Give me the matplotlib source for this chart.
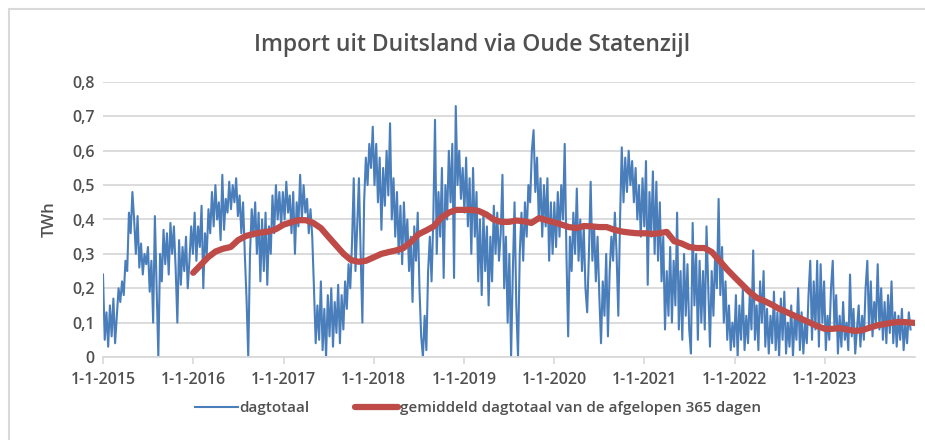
import numpy as np
import pandas as pd
import matplotlib
matplotlib.use('Agg')
import matplotlib.pyplot as plt
from matplotlib.ticker import FuncFormatter
from matplotlib.patches import Rectangle

# dagtotaal (TWh), weekly readings, one list per year
dag_2015 = [0.24, 0.05, 0.13, 0.03, 0.15, 0.06, 0.17, 0.04, 0.12, 0.20, 0.16, 0.22, 0.18,
            0.28, 0.25, 0.42, 0.36, 0.48, 0.40, 0.30, 0.41, 0.26, 0.33, 0.24, 0.30, 0.27,
            0.32, 0.19, 0.28, 0.10, 0.41, 0.20, 0.00, 0.30, 0.22, 0.37, 0.27, 0.36, 0.24,
            0.39, 0.30, 0.38, 0.26, 0.10, 0.34, 0.21, 0.32, 0.25, 0.35, 0.20, 0.28, 0.38]
dag_2016 = [0.30, 0.42, 0.28, 0.38, 0.32, 0.44, 0.20, 0.36, 0.30, 0.43, 0.36, 0.48, 0.38,
            0.50, 0.40, 0.45, 0.34, 0.53, 0.37, 0.46, 0.42, 0.51, 0.43, 0.50, 0.45, 0.52,
            0.41, 0.47, 0.36, 0.45, 0.30, 0.17, 0.00, 0.30, 0.43, 0.35, 0.45, 0.30, 0.42,
            0.22, 0.40, 0.25, 0.42, 0.21, 0.38, 0.30, 0.47, 0.36, 0.50, 0.40, 0.48, 0.38]
dag_2017 = [0.48, 0.40, 0.51, 0.42, 0.47, 0.36, 0.48, 0.30, 0.45, 0.38, 0.53, 0.40, 0.50,
            0.42, 0.46, 0.36, 0.43, 0.35, 0.20, 0.04, 0.15, 0.05, 0.22, 0.02, 0.14, 0.00,
            0.18, 0.06, 0.20, 0.03, 0.16, 0.07, 0.21, 0.04, 0.18, 0.08, 0.22, 0.14, 0.27,
            0.20, 0.33, 0.52, 0.25, 0.38, 0.52, 0.30, 0.10, 0.45, 0.58, 0.50, 0.62, 0.55]
dag_2018 = [0.67, 0.50, 0.62, 0.45, 0.58, 0.37, 0.55, 0.44, 0.60, 0.47, 0.68, 0.40, 0.52,
            0.35, 0.48, 0.30, 0.44, 0.27, 0.45, 0.32, 0.40, 0.25, 0.35, 0.16, 0.38, 0.28,
            0.42, 0.20, 0.06, 0.00, 0.12, 0.02, 0.25, 0.35, 0.22, 0.40, 0.69, 0.30, 0.48,
            0.35, 0.55, 0.23, 0.50, 0.40, 0.60, 0.45, 0.62, 0.23, 0.73, 0.50, 0.60, 0.46]
dag_2019 = [0.55, 0.42, 0.58, 0.38, 0.52, 0.30, 0.55, 0.35, 0.48, 0.22, 0.40, 0.18, 0.42,
            0.25, 0.38, 0.15, 0.35, 0.22, 0.44, 0.30, 0.42, 0.28, 0.36, 0.53, 0.20, 0.35,
            0.10, 0.30, 0.00, 0.25, 0.45, 0.15, 0.00, 0.30, 0.42, 0.28, 0.45, 0.35, 0.50,
            0.45, 0.60, 0.66, 0.48, 0.58, 0.40, 0.52, 0.35, 0.50, 0.38, 0.52, 0.28, 0.45]
dag_2020 = [0.30, 0.45, 0.32, 0.48, 0.35, 0.50, 0.40, 0.62, 0.30, 0.06, 0.35, 0.25, 0.42,
            0.30, 0.49, 0.28, 0.40, 0.25, 0.38, 0.20, 0.13, 0.30, 0.51, 0.28, 0.38, 0.22,
            0.35, 0.18, 0.04, 0.22, 0.12, 0.30, 0.06, 0.25, 0.35, 0.28, 0.42, 0.30, 0.12,
            0.40, 0.61, 0.45, 0.58, 0.48, 0.60, 0.50, 0.57, 0.45, 0.55, 0.40, 0.50, 0.35]
dag_2021 = [0.52, 0.38, 0.57, 0.21, 0.48, 0.35, 0.54, 0.30, 0.51, 0.28, 0.45, 0.22, 0.35,
            0.08, 0.25, 0.12, 0.32, 0.10, 0.28, 0.15, 0.42, 0.08, 0.25, 0.05, 0.30, 0.12,
            0.27, 0.08, 0.01, 0.39, 0.15, 0.30, 0.05, 0.28, 0.10, 0.25, 0.08, 0.38, 0.20,
            0.03, 0.25, 0.12, 0.30, 0.20, 0.46, 0.18, 0.32, 0.10, 0.22, 0.05, 0.15, 0.02]
dag_2022 = [0.10, 0.03, 0.18, 0.00, 0.15, 0.05, 0.20, 0.02, 0.12, 0.04, 0.18, 0.08, 0.31,
            0.05, 0.15, 0.02, 0.22, 0.10, 0.25, 0.03, 0.14, 0.01, 0.12, 0.04, 0.19, 0.02,
            0.13, 0.00, 0.17, 0.05, 0.19, 0.01, 0.10, 0.03, 0.15, 0.00, 0.12, 0.05, 0.20,
            0.02, 0.13, 0.01, 0.10, 0.04, 0.18, 0.28, 0.05, 0.22, 0.08, 0.28, 0.03, 0.27]
dag_2023 = [0.10, 0.22, 0.02, 0.12, 0.05, 0.20, 0.28, 0.08, 0.18, 0.01, 0.12, 0.03, 0.16,
            0.05, 0.10, 0.02, 0.24, 0.06, 0.14, 0.01, 0.08, 0.15, 0.03, 0.12, 0.05, 0.20,
            0.28, 0.08, 0.22, 0.06, 0.16, 0.10, 0.27, 0.08, 0.20, 0.05, 0.16, 0.04, 0.18,
            0.07, 0.22, 0.04, 0.13, 0.03, 0.12, 0.05, 0.14, 0.02, 0.10, 0.04, 0.13, 0.08]

# gemiddeld dagtotaal van de afgelopen 365 dagen, monthly readings (1-1-2016 .. 1-1-2024)
gem_2016 = [0.245, 0.268, 0.290, 0.307, 0.315, 0.320, 0.340, 0.352, 0.358, 0.362, 0.365, 0.372]
gem_2017 = [0.385, 0.392, 0.398, 0.398, 0.390, 0.375, 0.350, 0.325, 0.300, 0.282, 0.277, 0.280]
gem_2018 = [0.290, 0.300, 0.305, 0.310, 0.317, 0.335, 0.357, 0.368, 0.380, 0.405, 0.420, 0.428]
gem_2019 = [0.428, 0.428, 0.425, 0.415, 0.400, 0.393, 0.393, 0.397, 0.395, 0.390, 0.404, 0.398]
gem_2020 = [0.392, 0.385, 0.378, 0.375, 0.381, 0.380, 0.378, 0.378, 0.370, 0.365, 0.362, 0.360]
gem_2021 = [0.360, 0.358, 0.360, 0.364, 0.337, 0.330, 0.320, 0.317, 0.317, 0.305, 0.280, 0.255]
gem_2022 = [0.232, 0.210, 0.190, 0.172, 0.163, 0.152, 0.140, 0.130, 0.120, 0.110, 0.100, 0.090]
gem_2023 = [0.082, 0.082, 0.084, 0.080, 0.076, 0.078, 0.085, 0.092, 0.096, 0.100, 0.102, 0.101, 0.099]

jaren = list(range(2015, 2024))
xlabels = ['1-1-%d' % j for j in jaren]

dagtotaal = dag_2015 + dag_2016 + dag_2017 + dag_2018 + dag_2019 + dag_2020 + dag_2021 + dag_2022 + dag_2023
gemiddeld = gem_2016 + gem_2017 + gem_2018 + gem_2019 + gem_2020 + gem_2021 + gem_2022 + gem_2023

weken = pd.date_range('2015-01-01', periods=len(dagtotaal), freq='7D')
maanden = pd.date_range('2016-01-01', periods=len(gemiddeld), freq='MS')

grijs = '#505050'
lijn = '#d9d9d9'
plt.rcParams['font.family'] = ['Open Sans', 'DejaVu Sans']

fig = plt.figure(figsize=(9.25, 4.4), dpi=100)
ax = fig.add_axes([103/925, 1-357/440, (915-103)/925, (357-82)/440])

fig.patches.append(Rectangle((9/925, -0.1), 1.2, 1.1-9/440, transform=fig.transFigure,
                             fill=False, edgecolor=lijn, lw=1.5))

ax.plot(weken, dagtotaal, color='#4a7ebb', lw=1.5, label='dagtotaal')
ax.plot(maanden, gemiddeld, color='#be4b48', lw=4.5, solid_capstyle='round',
        label='gemiddeld dagtotaal van de afgelopen 365 dagen')

ax.set_ylim(0, 0.8)
ax.set_yticks(np.arange(0, 0.81, 0.1))
ax.yaxis.set_major_formatter(FuncFormatter(lambda v, p: '0' if abs(v) < 1e-9 else ('%.1f' % v).replace('.', ',')))
ax.set_xlim(pd.Timestamp('2015-01-01'), pd.Timestamp('2024-01-01'))
ax.set_xticks([pd.Timestamp('%d-01-01' % j) for j in jaren])
ax.set_xticklabels(xlabels)

ax.grid(axis='y', color=lijn, lw=1.3)
ax.set_axisbelow(True)
for s in ['left', 'right', 'top']:
    ax.spines[s].set_visible(False)
ax.spines['bottom'].set_color(lijn)
ax.spines['bottom'].set_linewidth(1.3)
ax.tick_params(axis='y', length=0, labelsize=11.5, labelcolor=grijs, pad=6)
ax.tick_params(axis='x', length=5, width=1.2, color=lijn, labelsize=11.5, labelcolor=grijs, pad=6)
for t in ax.get_xticklabels() + ax.get_yticklabels():
    t.set_fontweight('semibold')
ax.set_ylabel('TWh', fontsize=12, color=grijs, labelpad=10, fontweight='semibold')

fig.text(472/925, 1-45/440, 'Import uit Duitsland via Oude Statenzijl', ha='center', va='center',
         fontsize=16.5, color=grijs, fontweight='semibold')

fig.legend(loc='center', bbox_to_anchor=(478/925, 1-408/440), ncol=2, frameon=False,
           labelcolor=grijs, handlelength=2.8, columnspacing=3.0, handletextpad=0.1,
           prop={'weight': 'semibold', 'size': 11})

fig.savefig('out.png', dpi=100)
